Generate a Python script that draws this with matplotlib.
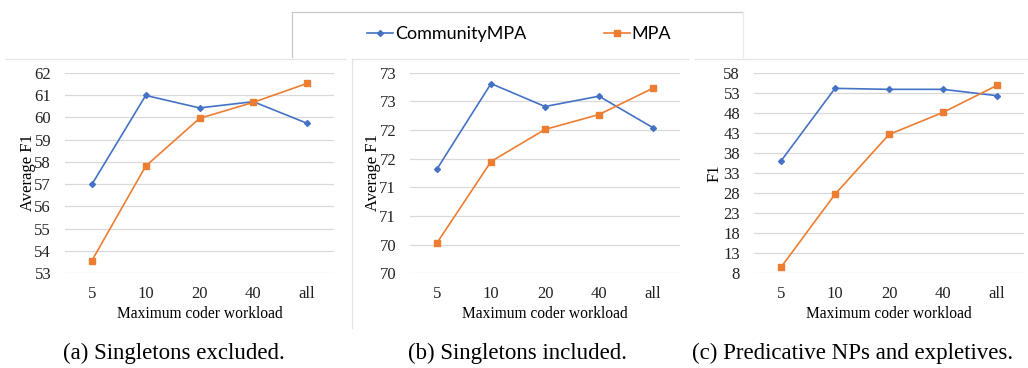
import matplotlib
matplotlib.use('Agg')
import matplotlib.pyplot as plt
from matplotlib.lines import Line2D

plt.rcParams['font.family'] = ['Liberation Serif', 'DejaVu Serif']

W, H = 1028, 368

workload = ['5', '10', '20', '40', 'all']

# (a) singletons excluded
comm_a = [56.99, 60.98, 60.42, 60.70, 59.73]
mpa_a = [53.57, 57.81, 59.95, 60.67, 61.52]
ticks_a = [53, 54, 55, 56, 57, 58, 59, 60, 61, 62]
labels_a = [str(t) for t in ticks_a]

# (b) singletons included
comm_b = [71.32, 72.81, 72.41, 72.59, 72.04]
mpa_b = [70.03, 71.45, 72.01, 72.27, 72.73]
ticks_b = [69.5, 70.0, 70.5, 71.0, 71.5, 72.0, 72.5, 73.0]
labels_b = ['70', '70', '71', '71', '72', '72', '73', '73']

# (c) predicative NPs and expletives
comm_c = [36.0, 54.1, 53.85, 53.85, 52.27]
mpa_c = [9.5, 27.7, 42.6, 48.1, 54.84]
ticks_c = [8, 13, 18, 23, 28, 33, 38, 43, 48, 53, 58]
labels_c = [str(t) for t in ticks_c]

captions = ['(a) Singletons excluded.', '(b) Singletons included.',
            '(c) Predicative NPs and expletives.']

BLUE = '#4472C4'
ORANGE = '#ED7D31'
GRID = '#D9D9D9'

fig = plt.figure(figsize=(W / 100, H / 100), dpi=100)


def px_rect(x0, y0, x1, y1):
    return [x0 / W, 1 - y1 / H, (x1 - x0) / W, (y1 - y0) / H]


def panel(rect, comm, mpa, ticks, labels, ylabel, ylab_x):
    ax = fig.add_axes(px_rect(*rect))
    x = range(len(workload))
    ax.plot(x, comm, color=BLUE, lw=1.2, marker='D', ms=3, label='CommunityMPA')
    ax.plot(x, mpa, color=ORANGE, lw=1.2, marker='s', ms=4, label='MPA')
    ax.set_xlim(-0.5, len(workload) - 0.5)
    ax.set_ylim(ticks[0], ticks[-1])
    ax.set_yticks(ticks, labels)
    ax.set_xticks(list(x), workload)
    ax.grid(axis='y', color=GRID, lw=0.9)
    ax.set_axisbelow(True)
    for s in ax.spines.values():
        s.set_visible(False)
    ax.tick_params(length=0, labelsize=12, colors='#222222')
    ax.tick_params(axis='y', pad=10)
    ax.tick_params(axis='x', pad=9)
    ax.set_xlabel('Maximum coder workload', fontsize=11.2, labelpad=3)
    fig.text(ylab_x / W, 1 - ((rect[1] + rect[3]) / 2) / H, ylabel,
             rotation=90, ha='center', va='center', fontsize=12)
    return ax


ax_a = panel((65, 72.7, 334, 273.3), comm_a, mpa_a, ticks_a, labels_a, 'Average F1', 28)
ax_b = panel((410, 72.7, 680, 273.3), comm_b, mpa_b, ticks_b, labels_b, 'Average F1', 373)
ax_c = panel((754, 72.7, 1024, 273.3), comm_c, mpa_c, ticks_c, labels_c, 'F1', 715)

# shared legend box
handles, lbls = ax_a.get_legend_handles_labels()
fig.legend(handles, lbls, loc='center', bbox_to_anchor=(519 / W, 1 - 34 / H),
           ncol=2, frameon=False, handlelength=1.45, handletextpad=0.1,
           columnspacing=4.3, prop={'family': ['Lato', 'DejaVu Sans'], 'size': 13})

# faint frames of the original chart images
frame = [
    ((292, 743), (12, 12), '#C8C8C8'),
    ((292, 292), (12, 57), '#C8C8C8'),
    ((743, 743), (12, 57), '#EBEBEB'),
    ((6, 345), (59, 59), '#E3E3E3'),
    ((352, 688), (59, 59), '#E3E3E3'),
    ((695, 1028), (59, 59), '#E3E3E3'),
    ((352, 352), (59, 328), '#E3E3E3'),
]
for xs, ys, c in frame:
    fig.add_artist(Line2D([v / W for v in xs], [1 - v / H for v in ys],
                          color=c, lw=0.9, transform=fig.transFigure))

for cx, cap in zip([174, 517, 853], captions):
    fig.text(cx / W, 1 - 353 / H, cap, ha='center', va='center', fontsize=16.5)

fig.savefig('out.png', dpi=100)
